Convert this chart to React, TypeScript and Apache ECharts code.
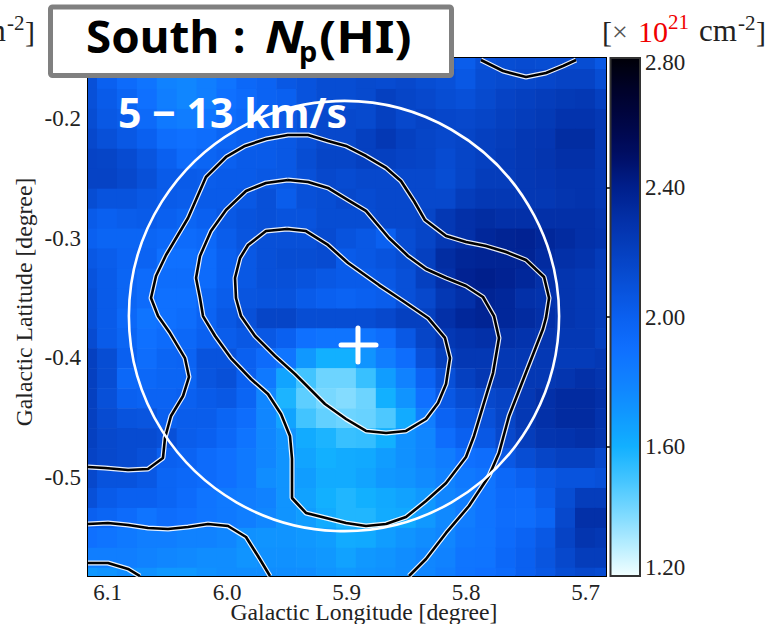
import React, { useEffect, useRef } from "react";
import * as echarts from "echarts";

// Axis extents in degrees
const lonMin = 5.68285;
const lonMax = 6.11632;
const latMin = -0.58237;
const latMax = -0.14962;
const lonTicks = [5.7, 5.8, 5.9, 6.0, 6.1];
const latTicks = [-0.2, -0.3, -0.4, -0.5];
const lonMinorTicks = [5.72, 5.74, 5.76, 5.78, 5.82, 5.84, 5.86, 5.88, 5.92, 5.94, 5.96, 5.98, 6.02, 6.04, 6.06, 6.08];
const latMinorTicks = [-0.16, -0.18, -0.22, -0.24, -0.26, -0.28, -0.32, -0.34, -0.36, -0.38, -0.42, -0.44, -0.46, -0.48, -0.52, -0.54, -0.56, -0.58];
const cbMajor = [1.6, 2.0, 2.4];
const cbLabels = [1.225, 1.6, 2.0, 2.4, 2.785];
const cbMinor = [1.24, 1.28, 1.32, 1.36, 1.4, 1.44, 1.48, 1.52, 1.56, 1.64, 1.68, 1.72, 1.76, 1.8, 1.84, 1.88, 1.92, 1.96, 2.04, 2.08, 2.12, 2.16, 2.2, 2.24, 2.28, 2.32, 2.36, 2.44, 2.48, 2.52, 2.56, 2.6, 2.64, 2.68, 2.72, 2.76];

// Map cells: one arc-minute pixels, west (left) to east, north (top) to south
const pixelSize = 1 / 60;
const firstLonEdge = 6.1088;
const firstLatEdge = -0.1588;
const heatRows = [
  [2.1, 2.02, 1.95, 1.9, 1.82, 1.78, 1.82, 1.88, 1.95, 1.98, 2.05, 2.08, 2.12, 2.12, 2.12, 2.12, 2.12, 2.1, 2.05, 2.02, 2.1, 2.12, 2.13, 2.12, 2.13, 2.12, 2.05],
  [2.1, 2.0, 1.93, 1.88, 1.8, 1.78, 1.82, 1.88, 1.95, 1.98, 2.05, 2.08, 2.12, 2.12, 2.14, 2.13, 2.15, 2.12, 2.1, 2.05, 2.12, 2.14, 2.15, 2.16, 2.18, 2.18, 2.12],
  [2.1, 2.03, 1.97, 1.9, 1.82, 1.78, 1.82, 1.9, 1.93, 1.98, 2.0, 2.08, 2.12, 2.12, 2.14, 2.2, 2.17, 2.15, 2.12, 2.1, 2.14, 2.18, 2.2, 2.22, 2.24, 2.25, 2.2],
  [2.12, 2.05, 2.02, 1.94, 1.85, 1.83, 1.87, 1.92, 1.95, 2.0, 2.05, 2.1, 2.15, 2.15, 2.14, 2.2, 2.15, 2.18, 2.16, 2.15, 2.17, 2.2, 2.22, 2.24, 2.28, 2.28, 2.25],
  [2.15, 2.1, 2.05, 2.0, 1.92, 1.9, 1.92, 1.97, 2.0, 2.03, 2.05, 2.1, 2.15, 2.15, 2.2, 2.25, 2.2, 2.17, 2.15, 2.17, 2.2, 2.22, 2.25, 2.26, 2.32, 2.32, 2.25],
  [2.18, 2.17, 2.13, 2.07, 2.0, 1.93, 1.97, 2.0, 2.03, 2.03, 2.05, 2.12, 2.17, 2.17, 2.2, 2.2, 2.18, 2.17, 2.13, 2.17, 2.2, 2.23, 2.25, 2.27, 2.3, 2.3, 2.25],
  [2.18, 2.18, 2.15, 2.1, 2.03, 2.03, 2.02, 2.03, 2.03, 2.05, 2.05, 2.1, 2.15, 2.13, 2.15, 2.15, 2.15, 2.15, 2.12, 2.17, 2.22, 2.22, 2.25, 2.26, 2.28, 2.28, 2.25],
  [2.12, 2.08, 2.08, 2.05, 2.03, 2.02, 2.03, 2.03, 2.05, 2.1, 2.02, 2.1, 2.12, 2.15, 2.13, 2.15, 2.15, 2.15, 2.15, 2.22, 2.25, 2.25, 2.25, 2.25, 2.27, 2.28, 2.25],
  [2.03, 2.0, 2.02, 2.03, 2.0, 1.97, 2.0, 2.05, 2.08, 2.1, 2.08, 2.08, 2.12, 2.12, 2.12, 2.15, 2.15, 2.17, 2.25, 2.3, 2.32, 2.3, 2.3, 2.3, 2.3, 2.3, 2.27],
  [2.0, 1.97, 1.97, 1.97, 1.95, 1.93, 1.95, 2.02, 2.07, 2.1, 2.1, 2.1, 2.13, 2.08, 2.05, 2.0, 2.12, 2.17, 2.25, 2.3, 2.35, 2.37, 2.38, 2.35, 2.33, 2.3, 2.28],
  [2.05, 2.02, 1.98, 1.98, 1.9, 1.9, 1.93, 2.0, 2.05, 2.1, 2.12, 2.12, 2.13, 2.03, 2.05, 2.08, 2.12, 2.2, 2.32, 2.36, 2.37, 2.37, 2.37, 2.33, 2.3, 2.28, 2.23],
  [2.08, 2.03, 1.97, 1.93, 1.92, 1.92, 1.93, 2.0, 2.05, 2.1, 2.1, 2.08, 2.05, 2.03, 2.03, 2.05, 2.1, 2.2, 2.3, 2.38, 2.4, 2.38, 2.35, 2.3, 2.27, 2.25, 2.22],
  [2.1, 2.03, 1.97, 1.93, 1.9, 1.9, 1.97, 2.02, 2.07, 2.08, 2.08, 2.03, 2.0, 1.98, 2.0, 2.02, 2.1, 2.15, 2.25, 2.3, 2.37, 2.35, 2.3, 2.28, 2.27, 2.25, 2.22],
  [2.1, 2.03, 1.95, 1.88, 1.9, 1.92, 1.98, 2.05, 2.1, 2.17, 2.17, 2.12, 2.12, 2.12, 2.12, 2.15, 2.2, 2.2, 2.3, 2.35, 2.37, 2.35, 2.33, 2.3, 2.27, 2.25, 2.22],
  [2.13, 2.03, 1.97, 1.9, 1.93, 1.95, 2.0, 2.02, 2.05, 2.05, 2.0, 1.9, 1.88, 1.88, 1.87, 1.92, 2.05, 2.17, 2.25, 2.28, 2.3, 2.3, 2.28, 2.27, 2.25, 2.25, 2.2],
  [2.2, 2.12, 2.0, 1.92, 1.97, 1.98, 2.08, 2.08, 2.0, 1.93, 1.87, 1.7, 1.6, 1.6, 1.72, 1.82, 1.92, 2.1, 2.2, 2.25, 2.25, 2.25, 2.25, 2.25, 2.23, 2.23, 2.25],
  [2.2, 2.12, 1.95, 1.95, 1.97, 1.97, 2.07, 2.1, 2.0, 1.85, 1.65, 1.5, 1.42, 1.42, 1.52, 1.68, 1.8, 1.98, 2.1, 2.2, 2.25, 2.25, 2.25, 2.25, 2.27, 2.3, 2.27],
  [2.2, 2.1, 2.0, 1.98, 1.98, 2.0, 2.03, 2.05, 1.97, 1.78, 1.58, 1.45, 1.4, 1.38, 1.42, 1.6, 1.72, 1.9, 2.05, 2.12, 2.15, 2.18, 2.25, 2.3, 2.33, 2.33, 2.3],
  [2.2, 2.13, 2.08, 2.07, 2.0, 2.02, 2.02, 1.97, 1.92, 1.78, 1.65, 1.5, 1.44, 1.42, 1.43, 1.48, 1.62, 1.82, 1.98, 2.05, 2.1, 2.17, 2.25, 2.3, 2.33, 2.33, 2.28],
  [2.2, 2.15, 2.13, 2.13, 2.1, 2.02, 2.0, 1.95, 1.88, 1.78, 1.72, 1.62, 1.58, 1.52, 1.53, 1.6, 1.73, 1.78, 1.92, 2.0, 2.05, 2.15, 2.22, 2.27, 2.28, 2.3, 2.27],
  [2.18, 2.15, 2.13, 2.1, 2.0, 1.98, 1.93, 1.9, 1.85, 1.78, 1.72, 1.65, 1.6, 1.62, 1.63, 1.68, 1.73, 1.78, 1.83, 1.9, 1.92, 2.05, 2.12, 2.17, 2.2, 2.2, 2.15],
  [2.15, 2.08, 2.08, 2.05, 1.97, 1.95, 1.93, 1.9, 1.85, 1.75, 1.72, 1.68, 1.62, 1.62, 1.65, 1.7, 1.72, 1.76, 1.8, 1.85, 1.88, 1.95, 2.0, 2.05, 2.08, 2.08, 2.1],
  [2.1, 2.03, 2.0, 2.0, 1.97, 1.93, 1.88, 1.85, 1.83, 1.8, 1.72, 1.66, 1.6, 1.57, 1.6, 1.63, 1.66, 1.7, 1.78, 1.82, 1.88, 1.93, 1.93, 2.02, 2.12, 2.22, 2.22],
  [2.0, 1.97, 1.93, 1.88, 1.92, 1.9, 1.87, 1.85, 1.82, 1.78, 1.72, 1.68, 1.62, 1.57, 1.57, 1.62, 1.63, 1.7, 1.77, 1.83, 1.88, 1.92, 1.92, 1.97, 2.15, 2.3, 2.3],
  [1.9, 1.88, 1.85, 1.82, 1.82, 1.8, 1.8, 1.78, 1.73, 1.72, 1.72, 1.7, 1.68, 1.62, 1.63, 1.68, 1.72, 1.75, 1.78, 1.85, 1.87, 1.93, 1.98, 2.05, 2.18, 2.27, 2.25],
  [1.82, 1.82, 1.82, 1.8, 1.78, 1.77, 1.75, 1.75, 1.72, 1.73, 1.73, 1.72, 1.7, 1.66, 1.7, 1.72, 1.75, 1.78, 1.8, 1.87, 1.88, 1.95, 2.0, 2.07, 2.15, 2.22, 2.22],
  [1.7, 1.72, 1.75, 1.73, 1.7, 1.7, 1.73, 1.75, 1.75, 1.75, 1.75, 1.75, 1.72, 1.7, 1.72, 1.73, 1.75, 1.78, 1.82, 1.88, 1.9, 1.93, 2.0, 2.05, 2.12, 2.15, 2.13],
];

// Colour scale, 1.2 to 2.8 in even steps
const colorStops = ["#f2ffff", "#b4ecff", "#78d8ff", "#42c4ff", "#12b0ff", "#1098ff", "#1082ff", "#0f70ff", "#0a60f0", "#0850d8", "#0540c0", "#0330a8", "#001f8c", "#000e64", "#000646", "#00022a", "#000008"];

// Contours as [longitude, latitude]
const contourInner = [[5.9498, -0.2925], [5.9339, -0.2942], [5.9155, -0.3058], [5.8987, -0.3209], [5.8728, -0.3393], [5.8527, -0.3526], [5.8318, -0.3668], [5.8176, -0.3835], [5.8134, -0.4003], [5.8167, -0.422], [5.8234, -0.4378], [5.8335, -0.4512], [5.8502, -0.4612], [5.8669, -0.4629], [5.8837, -0.4612], [5.9004, -0.4512], [5.918, -0.4387], [5.9431, -0.4136], [5.9598, -0.3986], [5.9766, -0.3819], [5.9883, -0.3652], [5.9925, -0.3501], [5.9933, -0.3334], [5.9891, -0.3167], [5.9824, -0.3058], [5.9674, -0.2942], [5.9498, -0.2925]];
const contourMiddle = [[5.949, -0.2516], [5.9322, -0.2532], [5.9155, -0.2582], [5.8987, -0.2683], [5.8837, -0.2774], [5.8644, -0.3], [5.8485, -0.315], [5.8335, -0.3259], [5.8167, -0.3334], [5.8, -0.3401], [5.7858, -0.3493], [5.7766, -0.3652], [5.7724, -0.3835], [5.7774, -0.4128], [5.7858, -0.4404], [5.7933, -0.4654], [5.8, -0.483], [5.8167, -0.5047], [5.8335, -0.5197], [5.8502, -0.5331], [5.8669, -0.5389], [5.8837, -0.5406], [5.9004, -0.5381], [5.9339, -0.5297], [5.9456, -0.5172], [5.9456, -0.4846], [5.9473, -0.4654], [5.9548, -0.447], [5.9657, -0.4303], [5.9799, -0.4178], [5.9967, -0.4003], [6.01, -0.3819], [6.0201, -0.3652], [6.0226, -0.3501], [6.0259, -0.3334], [6.0226, -0.315], [6.0134, -0.2942], [6.0008, -0.2766], [5.9841, -0.2607], [5.9674, -0.254], [5.949, -0.2516]];
const contourOuter = [[6.1163, -0.4913], [6.1021, -0.4922], [6.0828, -0.4938], [6.0661, -0.493], [6.0536, -0.4838], [6.0519, -0.4671], [6.0469, -0.4487], [6.0368, -0.432], [6.0318, -0.4161], [6.0352, -0.4003], [6.0477, -0.3794], [6.0577, -0.3652], [6.0636, -0.3501], [6.0594, -0.3317], [6.051, -0.3142], [6.0326, -0.2833], [6.0176, -0.249], [6.0008, -0.2323], [5.9849, -0.2231], [5.9674, -0.2173], [5.949, -0.2139], [5.9322, -0.2139], [5.9155, -0.219], [5.9004, -0.2231], [5.8837, -0.2315], [5.8669, -0.2415], [5.8544, -0.2524], [5.8435, -0.2691], [5.8343, -0.285], [5.8167, -0.2983], [5.8, -0.3033], [5.7833, -0.3067], [5.7665, -0.3117], [5.7498, -0.3184], [5.7347, -0.3326], [5.7305, -0.3501], [5.7331, -0.3668], [5.7356, -0.376], [5.7565, -0.4295], [5.764, -0.4487], [5.7724, -0.4796], [5.7808, -0.4988], [5.7975, -0.5239], [5.8167, -0.5464], [5.8335, -0.5682], [5.8477, -0.5824]];
const contourBottom = [[6.1163, -0.5389], [6.0996, -0.5381], [6.0828, -0.5398], [6.0661, -0.5423], [6.0494, -0.5431], [6.0326, -0.5414], [6.0159, -0.5389], [5.9992, -0.5406], [5.9841, -0.5498], [5.9741, -0.5657], [5.964, -0.5824]];
const contourCorner = [[6.1163, -0.5715], [6.0996, -0.5715], [6.0828, -0.5765], [6.0728, -0.5824]];
const contourTop = [[5.7875, -0.1513], [5.769, -0.1605], [5.7498, -0.1655], [5.7331, -0.1622], [5.7188, -0.1563], [5.7079, -0.1513]];
const contours = [contourInner, contourMiddle, contourOuter, contourBottom, contourCorner, contourTop];

// Analysis region and centre
const regionCircle = [[5.9021, -0.3652, 0.18]];
const crossH = [[5.9046, -0.3894], [5.8753, -0.3894]];
const crossV = [[5.8904, -0.3752], [5.8904, -0.4036]];

const serif = "'Liberation Serif', 'Times New Roman', serif";
const sans = "'Noto Sans', sans-serif";

function headerText(dx: number) {
  const piece = (text: string, x: number, baseline: number, fontSize: number, fill: string) => ({
    type: "text",
    z: 100,
    x: x + dx,
    y: baseline - 0.83 * fontSize,
    style: { text, fontFamily: serif, fontSize, fill, align: "left", verticalAlign: "top" },
  });
  return [
    piece("[", 602, 41, 30, "#222"),
    piece("×", 612, 41, 28, "#555"),
    piece("10", 638, 41, 30, "#f00000"),
    piece("21", 668, 29, 21, "#f00000"),
    piece("cm", 699, 41, 31, "#222"),
    piece("-2", 738, 30, 21, "#222"),
    piece("]", 756, 41, 30, "#222"),
  ];
}

function boldPiece(text: string, x: number, baseline: number, fontSize: number, scaleX: number, extra: any = {}) {
  return {
    type: "text",
    z: 102,
    x,
    y: baseline - 0.886 * fontSize,
    scaleX,
    style: { text, fontFamily: sans, fontWeight: "bold", fontSize, fill: "#000", align: "left", verticalAlign: "top", ...extra },
  };
}

export default function App() {
  const ref = useRef<HTMLDivElement>(null);
  useEffect(() => {
    const chart = echarts.init(ref.current!, undefined, { renderer: "svg" });
    const cells: number[][] = [];
    heatRows.forEach((row, r) =>
      row.forEach((v, c) => {
        cells.push([firstLonEdge + (1 - c) * pixelSize - pixelSize / 2, firstLatEdge - (r - 1) * pixelSize - pixelSize / 2, v]);
      })
    );

    const lonAxis = (position: string, values: number[], length: number, labels: boolean) => ({
      type: "value",
      gridIndex: 0,
      position,
      inverse: true,
      min: lonMin,
      max: lonMax,
      splitLine: { show: false },
      axisLine: { show: true, onZero: false, lineStyle: { color: "#000", width: 2 } },
      axisTick: { show: true, inside: true, length, customValues: values, lineStyle: { color: "#000", width: 1.5 } },
      axisLabel: labels
        ? { show: true, customValues: lonTicks, margin: 5, fontFamily: serif, fontSize: 23, color: "#222", formatter: (v: number) => v.toFixed(1) }
        : { show: false },
    });
    const latAxis = (position: string, values: number[], length: number, labels: boolean) => ({
      type: "value",
      gridIndex: 0,
      position,
      min: latMin,
      max: latMax,
      splitLine: { show: false },
      axisLine: { show: true, onZero: false, lineStyle: { color: "#000", width: 2 } },
      axisTick: { show: true, inside: true, length, customValues: values, lineStyle: { color: "#000", width: 1.5 } },
      axisLabel: labels
        ? { show: true, customValues: latTicks, margin: 7, fontFamily: serif, fontSize: 23, color: "#222", formatter: (v: number) => v.toFixed(1) }
        : { show: false },
    });

    const contourSeries: any[] = [];
    contours.forEach((data, i) => {
      contourSeries.push({ name: "casing" + i, type: "line", data, xAxisIndex: 0, yAxisIndex: 0, symbol: "none", silent: true, z: 3, itemStyle: { color: "#ffffff" }, lineStyle: { color: "#ffffff", width: 5, opacity: 0.9 } });
    });
    contours.forEach((data, i) => {
      contourSeries.push({ name: "core" + i, type: "line", data, xAxisIndex: 0, yAxisIndex: 0, symbol: "none", silent: true, z: 4, lineStyle: { color: "#000", width: 2.6 } });
    });

    chart.setOption({
      animation: false,
      backgroundColor: "#fff",
      grid: [
        { left: 88, top: 58, width: 518, height: 518, containLabel: false },
        { left: 610.5, top: 58, width: 29.5, height: 518, show: true, borderColor: "#333", borderWidth: 2, backgroundColor: "transparent", z: 5 },
      ],
      xAxis: [
        lonAxis("bottom", lonTicks, 12, true),
        lonAxis("bottom", lonMinorTicks, 6, false),
        lonAxis("top", lonTicks, 12, false),
        lonAxis("top", lonMinorTicks, 6, false),
        { type: "value", gridIndex: 1, min: 0, max: 1, show: false },
      ],
      yAxis: [
        latAxis("left", latTicks, 12, true),
        latAxis("left", latMinorTicks, 6, false),
        latAxis("right", latTicks, 12, false),
        latAxis("right", latMinorTicks, 6, false),
        {
          type: "value",
          gridIndex: 1,
          position: "right",
          min: 1.2,
          max: 2.8,
          splitLine: { show: false },
          axisLine: { show: false },
          axisTick: { show: true, inside: true, length: 6, customValues: cbMajor, lineStyle: { color: "#000", width: 1.5 } },
          axisLabel: {
            show: true,
            customValues: cbLabels,
            margin: 5,
            fontFamily: serif,
            fontSize: 23,
            color: "#222",
            formatter: (v: number) => (v > 2.7 ? "2.80" : v < 1.3 ? "1.20" : v.toFixed(2)),
          },
        },
        {
          type: "value",
          gridIndex: 1,
          position: "right",
          min: 1.2,
          max: 2.8,
          splitLine: { show: false },
          axisLine: { show: false },
          axisLabel: { show: false },
          axisTick: { show: true, inside: true, length: 3.5, customValues: cbMinor, lineStyle: { color: "#000", width: 1.5 } },
        },
      ],
      visualMap: {
        type: "continuous",
        min: 1.2,
        max: 2.8,
        seriesIndex: 0,
        dimension: 2,
        left: 610,
        top: 58,
        itemWidth: 30,
        itemHeight: 518,
        padding: 0,
        calculable: false,
        hoverLink: false,
        inRange: { color: colorStops },
        z: 1,
      },
      series: [
        {
          type: "custom",
          xAxisIndex: 0,
          yAxisIndex: 0,
          data: cells,
          clip: true,
          silent: true,
          z: 1,
          renderItem: (_: any, api: any) => {
            const lon = api.value(0);
            const lat = api.value(1);
            const a = api.coord([lon + pixelSize / 2, lat + pixelSize / 2]);
            const b = api.coord([lon - pixelSize / 2, lat - pixelSize / 2]);
            return {
              type: "rect",
              shape: { x: a[0], y: a[1], width: b[0] - a[0] + 0.6, height: b[1] - a[1] + 0.6 },
              style: { fill: api.visual("color") },
            };
          },
        },
        ...contourSeries,
        {
          type: "custom",
          xAxisIndex: 0,
          yAxisIndex: 0,
          data: regionCircle,
          silent: true,
          z: 6,
          renderItem: (_: any, api: any) => {
            const c = api.coord([api.value(0), api.value(1)]);
            const r = api.size([api.value(2), 0])[0];
            return { type: "circle", shape: { cx: c[0], cy: c[1], r }, style: { fill: "none", stroke: "#fff", lineWidth: 2.6 } };
          },
        },
        { type: "line", data: crossH, xAxisIndex: 0, yAxisIndex: 0, symbol: "none", silent: true, z: 7, lineStyle: { color: "#fff", width: 5, cap: "round" } },
        { type: "line", data: crossV, xAxisIndex: 0, yAxisIndex: 0, symbol: "none", silent: true, z: 7, lineStyle: { color: "#fff", width: 5, cap: "round" } },
      ],
      graphic: [
        { type: "rect", z: 100, shape: { x: 50.5, y: 7, width: 401, height: 68.5, r: 2 }, style: { fill: "#fff", stroke: "#808080", lineWidth: 5 } },
        boldPiece("South", 86, 53, 44, 1.04),
        boldPiece(":", 233, 53, 44, 1),
        boldPiece("N", 265, 53, 44, 1.15, { fontStyle: "italic" }),
        boldPiece("p", 299, 62, 29, 1),
        boldPiece("(HI)", 319, 53, 44, 1.15),
        boldPiece("5 − 13 km/s", 118, 128, 41, 1, { fill: "#fff" }),
        ...headerText(0),
        ...headerText(-731).slice(4),
        { type: "text", z: 100, x: 364, y: 612, style: { text: "Galactic Longitude [degree]", fontFamily: serif, fontSize: 23.7, fill: "#222", align: "center", verticalAlign: "middle" } },
        { type: "text", z: 100, x: 24, y: 302, rotation: Math.PI / 2, style: { text: "Galactic Latitude [degree]", fontFamily: serif, fontSize: 23.7, fill: "#222", align: "center", verticalAlign: "middle" } },
      ],
    });
    return () => chart.dispose();
  }, []);
  return <div ref={ref} style={{ position: "absolute", left: 0, top: 0, width: 768, height: 624 }} />;
}
